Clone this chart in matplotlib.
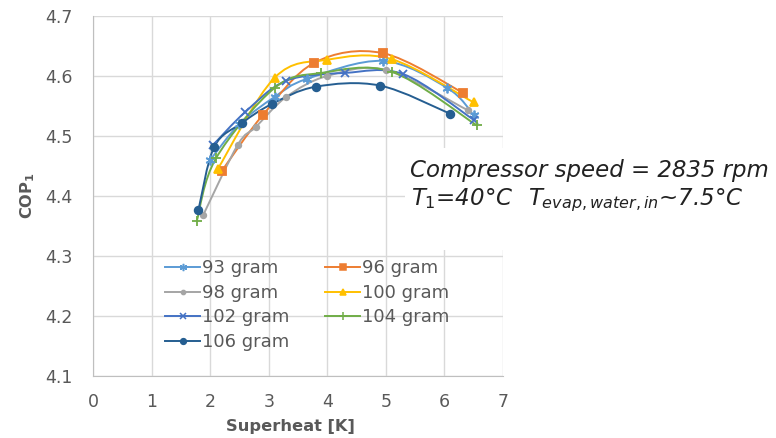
import matplotlib
matplotlib.use("Agg")
import matplotlib.pyplot as plt
from matplotlib.path import Path
from matplotlib.patches import PathPatch, Rectangle
import numpy as np

plt.rcParams["font.family"] = ["DejaVu Sans"]
plt.rcParams["mathtext.fontset"] = "dejavusans"

# data: superheat [K] vs COP1
x93 = [2.0, 2.5, 3.1, 3.65, 4.95, 6.05, 6.5]
y93 = [4.46, 4.52, 4.565, 4.595, 4.625, 4.58, 4.535]
x96 = [2.2, 2.9, 3.78, 4.95, 6.32]
y96 = [4.442, 4.535, 4.622, 4.638, 4.572]
x98 = [1.88, 2.47, 2.78, 3.3, 4.0, 5.0, 6.4]
y98 = [4.368, 4.485, 4.515, 4.565, 4.6, 4.61, 4.543]
x100 = [2.13, 3.1, 4.0, 5.1, 6.5]
y100 = [4.445, 4.597, 4.627, 4.628, 4.556]
x102 = [2.05, 2.6, 3.3, 4.3, 5.3, 6.5]
y102 = [4.485, 4.54, 4.592, 4.605, 4.603, 4.527]
x104 = [1.77, 2.1, 3.1, 3.9, 5.1, 6.55]
y104 = [4.358, 4.463, 4.58, 4.605, 4.607, 4.518]
x106 = [1.8, 2.07, 2.55, 3.05, 3.8, 4.9, 6.1]
y106 = [4.377, 4.482, 4.522, 4.553, 4.582, 4.584, 4.537]

labels = ["93 gram", "96 gram", "98 gram", "100 gram", "102 gram", "104 gram", "106 gram"]
xs = [x93, x96, x98, x100, x102, x104, x106]
ys = [y93, y96, y98, y100, y102, y104, y106]
colors = ["#5B9BD5", "#ED7D31", "#A5A5A5", "#FFC000", "#4472C4", "#70AD47", "#255E91"]
markers = [(6, 2, 0), "s", "o", "^", "x", "+", "o"]
msizes = [7, 6, 4, 6, 6, 7, 5.5]

xticks = [0, 1, 2, 3, 4, 5, 6, 7]
yticks = [4.1, 4.2, 4.3, 4.4, 4.5, 4.6, 4.7]


def smooth_path(x, y):
    # excel-like smoothed line: catmull-rom segments as cubic beziers
    p = np.column_stack([x, y])
    n = len(p)
    verts = [p[0]]
    codes = [Path.MOVETO]
    for i in range(n - 1):
        p0 = p[i - 1] if i > 0 else p[i]
        p3 = p[i + 2] if i + 2 < n else p[i + 1]
        c1 = p[i] + (p[i + 1] - p0) / 6.0
        c2 = p[i + 1] - (p3 - p[i]) / 6.0
        verts += [c1, c2, p[i + 1]]
        codes += [Path.CURVE4] * 3
    return Path(verts, codes)


fig = plt.figure(figsize=(7.76, 4.38), dpi=100)
ax = fig.add_axes([0.12, 0.1416, 0.528, 0.822])

handles = []
for x, y, c, m, ms, lab in zip(xs, ys, colors, markers, msizes, labels):
    ax.add_patch(PathPatch(smooth_path(x, y), facecolor="none", edgecolor=c, lw=1.4, zorder=3))
    ax.plot(x, y, linestyle="none", marker=m, color=c, markersize=ms, mew=1.3, zorder=4)
    h, = ax.plot([], [], color=c, lw=1.4, marker=m, markersize=ms * 0.75, mew=1.1, label=lab)
    handles.append(h)

ax.set_xlim(0, 7)
ax.set_ylim(4.1, 4.7)
ax.set_xticks(xticks)
ax.set_yticks(yticks)
ax.set_yticklabels([f"{v:.1f}" for v in yticks])
ax.grid(True, color="#D9D9D9", lw=1.0)
ax.set_axisbelow(True)
for s in ["top", "right"]:
    ax.spines[s].set_visible(False)
for s in ["left", "bottom"]:
    ax.spines[s].set_color("#BFBFBF")
ax.tick_params(length=0, labelsize=12.5, colors="#595959")
ax.tick_params(axis="y", pad=15)
ax.tick_params(axis="x", pad=12)

ax.set_xlabel("Superheat [K]", fontsize=11.7, fontweight="bold", color="#595959")
ax.xaxis.set_label_coords(0.481, -0.12)
ax.set_ylabel(r"COP$_\mathbf{1}$", fontsize=11.7, fontweight="bold", color="#595959")
ax.yaxis.set_label_coords(-0.137, 0.5)

# legend filled row by row like the original
order = [0, 2, 4, 6, 1, 3, 5]
ax.legend([handles[i] for i in order], [labels[i] for i in order],
          loc="upper left", bbox_to_anchor=(0.1756, 0.324), ncol=2, frameon=False,
          fontsize=13, labelcolor="#595959", handlelength=1.94, handletextpad=0.1,
          columnspacing=2.0, labelspacing=0.36, borderaxespad=0, borderpad=0)

# white box behind the annotation
fig.add_artist(Rectangle((405 / 776, 1 - 250 / 438), 371 / 776, 102 / 438,
                         transform=fig.transFigure, facecolor="white", edgecolor="none", zorder=1))
fig.text(410 / 776, 1 - 177 / 438, "Compressor speed = 2835 rpm", fontsize=16.5, style="italic",
         color="#222222", va="baseline", zorder=2)
fig.text(411 / 776, 1 - 205 / 438, r"$T_{\mathit{1}}$=40°C", fontsize=16.5, style="italic",
         color="#222222", va="baseline", zorder=2)
fig.text(528 / 776, 1 - 205 / 438, r"$T_{\mathit{evap,water,in}}$~7.5°C", fontsize=16.5,
         style="italic", color="#222222", va="baseline", zorder=2)

fig.savefig("out.png", dpi=100)
